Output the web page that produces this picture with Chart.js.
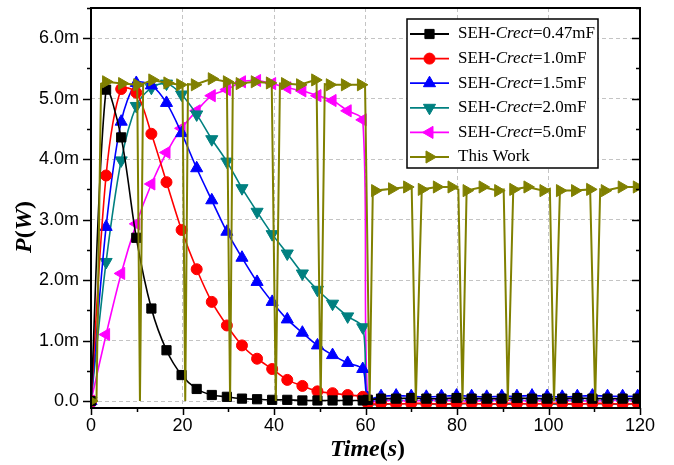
<!DOCTYPE html>
<html>
<head>
<meta charset="utf-8">
<script src="https://cdn.jsdelivr.net/npm/chart.js"></script>
<style>
  html, body { margin: 0; padding: 0; background: #fff; }
</style>
</head>
<body>
<canvas id="myChart" width="674" height="465"></canvas>
<script>
// time axis shared by the SEH curves (s)
var timeS = [0, 3.3, 6.6, 9.9, 13.2, 16.5, 19.8, 23.1, 26.4, 29.7, 33.0, 36.3, 39.6, 42.9, 46.2, 49.5, 52.8, 56.1, 59.4,
    60.5, 63.4, 66.7, 70.0, 73.3, 76.6, 79.9, 83.2, 86.5, 89.8, 93.1, 96.4, 99.7, 103.0, 106.3, 109.6, 112.9, 116.2, 119.5];

// power in mW
var c047 = [0, 5.15, 4.36, 2.70, 1.53, 0.84, 0.43, 0.20, 0.10, 0.07, 0.04, 0.03, 0.02, 0.02, 0.01, 0.01, 0.01, 0.01, 0.01,
    0.02, 0.04, 0.04, 0.05, 0.04, 0.04, 0.05, 0.04, 0.04, 0.04, 0.05, 0.04, 0.04, 0.04, 0.05, 0.04, 0.04, 0.04, 0.04];
var c10 = [0, 3.73, 5.16, 5.10, 4.42, 3.62, 2.83, 2.18, 1.64, 1.25, 0.92, 0.70, 0.53, 0.35, 0.25, 0.16, 0.13, 0.10, 0.07,
    -0.04, -0.04, -0.05, -0.04, -0.04, -0.05, -0.04, -0.04, -0.05, -0.04, -0.04, -0.05, -0.04, -0.04, -0.05, -0.04, -0.04, -0.05, -0.04];
var c15 = [0, 2.88, 4.62, 5.26, 5.22, 4.93, 4.43, 3.85, 3.32, 2.80, 2.37, 1.97, 1.64, 1.35, 1.13, 0.92, 0.76, 0.63, 0.53,
    0.05, 0.08, 0.09, 0.08, 0.07, 0.08, 0.09, 0.08, 0.07, 0.08, 0.08, 0.09, 0.08, 0.07, 0.08, 0.09, 0.08, 0.08, 0.08];
var c20 = [0, 2.30, 3.98, 4.88, 5.18, 5.25, 5.07, 4.74, 4.33, 3.96, 3.52, 3.13, 2.76, 2.44, 2.11, 1.84, 1.61, 1.40, 1.22,
    -0.03, -0.05, -0.05, -0.04, -0.05, -0.05, -0.05, -0.04, -0.05, -0.05, -0.05, -0.04, -0.05, -0.05, -0.05, -0.04, -0.05, -0.05, -0.05];
var c50 = [0, 1.10, 2.11, 2.93, 3.59, 4.11, 4.51, 4.80, 5.05, 5.15, 5.28, 5.30, 5.25, 5.18, 5.13, 5.05, 4.97, 4.80, 4.65,
    0.00, 0.01, 0.01, 0.00, 0.01, 0.01, 0.01, 0.00, 0.01, 0.01, 0.01, 0.00, 0.01, 0.01, 0.01, 0.00, 0.01, 0.01, 0.01];

// This Work: sampled points (with markers)
var workT = [0, 3.3, 6.8, 10.1, 13.4, 16.7, 19.5, 22.7, 26.4, 29.7, 32.5, 35.8, 39.1, 42.4, 45.7, 49.0, 52.2, 55.5, 59.0,
    62.1, 65.8, 69.1, 72.3, 75.6, 78.8, 82.1, 85.6, 89.0, 92.3, 95.4, 98.9, 102.5, 105.8, 109.1, 112.3, 116.0, 119.3];
var workP = [0, 5.28, 5.25, 5.23, 5.31, 5.26, 5.23, 5.23, 5.33, 5.28, 5.25, 5.28, 5.26, 5.25, 5.23, 5.31, 5.23, 5.23, 5.23,
    3.48, 3.51, 3.54, 3.50, 3.54, 3.54, 3.48, 3.54, 3.48, 3.50, 3.54, 3.48, 3.48, 3.48, 3.50, 3.48, 3.54, 3.54];
// This Work: switching spikes between samples (no markers)
var spikeT = [1.2, 2.2, 10.7, 11.4, 20.0, 20.6, 21.2, 30.4, 31.0, 39.5, 40.4, 41.3, 49.3, 50.2, 51.1, 59.9, 60.9, 61.6,
    70.1, 71.0, 80.3, 81.2, 90.2, 91.1, 100.3, 101.2, 110.2, 111.3];
var spikeP = [0, 5.25, 0, 5.25, 5.23, 0, 5.24, 0, 5.26, 5.26, 0, 5.25, 5.27, 0, 5.24, 5.23, 0, 3.49,
    3.51, 0, 3.50, 0, 3.50, 0, 3.51, 0, 0, 3.50];

var yTicks = [0, 1, 2, 3, 4, 5, 6];
var xTicks = [0, 20, 40, 60, 80, 100, 120];

function sehSet(label, vals, color, style, rot, size) {
    return {
        label: label,
        data: timeS.map(function (t, i) { return { x: t, y: vals[i] }; }),
        borderColor: color,
        backgroundColor: color,
        pointStyle: style,
        rotation: rot,
        pointRadius: size,
        markerSize: size,
        pointBorderWidth: 1,
        borderWidth: 1.6,
        tension: 0.3,
    };
}

var workPts = workT.map(function (t, i) { return { x: t, y: workP[i], m: true }; })
    .concat(spikeT.map(function (t, i) { return { x: t, y: spikeP[i], m: false }; }))
    .sort(function (a, b) { return a.x - b.x; });

var datasets = [
    sehSet("SEH-Crect=0.47mF", c047, "#000000", "rect", 0, 6.5),
    sehSet("SEH-Crect=1.0mF", c10, "#ff0000", "circle", 0, 5.5),
    sehSet("SEH-Crect=1.5mF", c15, "#0000ff", "triangle", 0, 7),
    sehSet("SEH-Crect=2.0mF", c20, "#008080", "triangle", 180, 7),
    sehSet("SEH-Crect=5.0mF", c50, "#ff00ff", "triangle", -90, 7),
    {
        label: "This Work",
        data: workPts,
        borderColor: "#808000",
        backgroundColor: "#808000",
        pointStyle: "triangle",
        rotation: 90,
        markerSize: 7,
        pointRadius: function (ctx) { return ctx.raw && ctx.raw.m ? 7 : 0; },
        pointBorderWidth: 1,
        borderWidth: 2,
        tension: 0,
        order: -1,
    },
];

function isMajor(v, step) {
    return Math.abs(v / step - Math.round(v / step)) < 1e-6;
}

// frame, tick marks, legend box and axis titles
var decor = {
    id: "decor",
    afterDraw: function (chart) {
        var ctx = chart.ctx, a = chart.chartArea;
        var xs = chart.scales.x, ys = chart.scales.y;
        ctx.save();
        ctx.strokeStyle = "#000";
        ctx.lineWidth = 2;
        ctx.strokeRect(a.left, a.top, a.right - a.left, a.bottom - a.top);

        ctx.lineWidth = 1.5;
        ctx.beginPath();
        for (var v = 0; v <= 6.5; v += 0.5) {
            var py = Math.round(ys.getPixelForValue(v)) + 0.5;
            var len = isMajor(v, 1) ? 8 : 4;
            ctx.moveTo(a.left - len, py); ctx.lineTo(a.left, py);
            ctx.moveTo(a.right - len, py); ctx.lineTo(a.right, py);
        }
        for (var t = 0; t <= 120; t += 10) {
            var px = Math.round(xs.getPixelForValue(t)) + 0.5;
            var tl = isMajor(t, 20) ? 7 : 4;
            ctx.moveTo(px, a.bottom); ctx.lineTo(px, a.bottom + tl);
        }
        ctx.stroke();

        // legend
        var lx = 407, ly = 19, lw = 191, lh = 149;
        ctx.fillStyle = "#fff";
        ctx.fillRect(lx, ly, lw, lh);
        ctx.lineWidth = 1.5;
        ctx.strokeRect(lx, ly, lw, lh);
        chart.data.datasets.forEach(function (ds, i) {
            var cy = 34 + i * 24.6;
            ctx.strokeStyle = ds.borderColor;
            ctx.fillStyle = ds.backgroundColor;
            ctx.lineWidth = 1.8;
            ctx.beginPath();
            ctx.moveTo(410, cy); ctx.lineTo(449, cy);
            ctx.stroke();
            ctx.lineWidth = 1;
            Chart.helpers.drawPoint(ctx, {
                pointStyle: ds.pointStyle, rotation: ds.rotation, radius: ds.markerSize, borderWidth: 1
            }, 429.5, cy);
            drawRich(ctx, ds.label, 458, cy, 17);
        });

        // axis titles
        var xt = [["Time", "bold italic"], ["(", "bold"], ["s", "bold italic"], [")", "bold"]];
        drawParts(ctx, xt, (a.left + a.right) / 2 + 2, 450, 24, true);
        ctx.translate(25, 227);
        ctx.rotate(-Math.PI / 2);
        var yt = [["P", "bold italic"], ["(", "bold"], ["W", "bold italic"], [")", "bold"]];
        drawParts(ctx, yt, 0, 0, 24, true);
        ctx.restore();
    }
};

function drawParts(ctx, parts, x, y, size, center) {
    var fam = "'Liberation Serif', 'Times New Roman', serif";
    var total = 0;
    parts.forEach(function (p) {
        ctx.font = p[1] + " " + size + "px " + fam;
        total += ctx.measureText(p[0]).width;
    });
    var cx = center ? x - total / 2 : x;
    ctx.fillStyle = "#000";
    ctx.textBaseline = "middle";
    ctx.textAlign = "left";
    parts.forEach(function (p) {
        ctx.font = p[1] + " " + size + "px " + fam;
        ctx.fillText(p[0], cx, y);
        cx += ctx.measureText(p[0]).width;
    });
}

function drawRich(ctx, label, x, y, size) {
    var k = label.indexOf("Crect");
    var parts = k < 0 ? [[label, "normal"]] :
        [[label.slice(0, k), "normal"], ["Crect", "italic"], [label.slice(k + 5), "normal"]];
    drawParts(ctx, parts, x, y, size, false);
}

var tickFont = { family: "'Liberation Sans', Arial, sans-serif", size: 18 };

new Chart("myChart", {
    type: "line",
    data: { datasets: datasets },
    plugins: [decor],
    options: {
        responsive: false,
        animation: false,
        layout: { padding: { left: 0, right: 34, top: 3, bottom: 0 } },
        plugins: {
            legend: { display: false },
            tooltip: { enabled: false },
        },
        scales: {
            x: {
                type: "linear",
                min: 0,
                max: 120,
                afterFit: function (s) {
                    s.height = 57;
                    s.paddingLeft = 0;
                    s.paddingRight = 0;
                },
                ticks: {
                    stepSize: 10,
                    padding: 7,
                    autoSkip: false,
                    maxRotation: 0,
                    color: "#000",
                    font: tickFont,
                    callback: function (v) { return xTicks.indexOf(v) >= 0 ? String(v) : ""; },
                },
                grid: {
                    drawTicks: false,
                    lineWidth: 1,
                    color: function (c) {
                        var v = c.tick ? c.tick.value : -1;
                        return (v > 0 && v < 120 && isMajor(v, 20)) ? "#c4c4c4" : "rgba(0,0,0,0)";
                    },
                },
                border: { display: false, dash: [4, 3] },
            },
            y: {
                min: -0.115,
                max: 6.5,
                afterFit: function (s) {
                    s.width = 91;
                    s.paddingTop = 0;
                    s.paddingBottom = 0;
                },
                ticks: {
                    stepSize: 0.5,
                    includeBounds: false,
                    padding: 12,
                    color: "#000",
                    font: tickFont,
                    callback: function (v) {
                        var r = Math.round(v);
                        if (!isMajor(v, 1) || yTicks.indexOf(r) < 0) return "";
                        return r === 0 ? "0.0" : r.toFixed(1) + "m";
                    },
                },
                grid: {
                    drawTicks: false,
                    lineWidth: 1,
                    color: function (c) {
                        var v = c.tick ? c.tick.value : -1;
                        return (v > -0.01 && v < 6.1 && isMajor(v, 1)) ? "#c4c4c4" : "rgba(0,0,0,0)";
                    },
                },
                border: { display: false, dash: [4, 3] },
            },
        },
    },
});
</script>
</body>
</html>
